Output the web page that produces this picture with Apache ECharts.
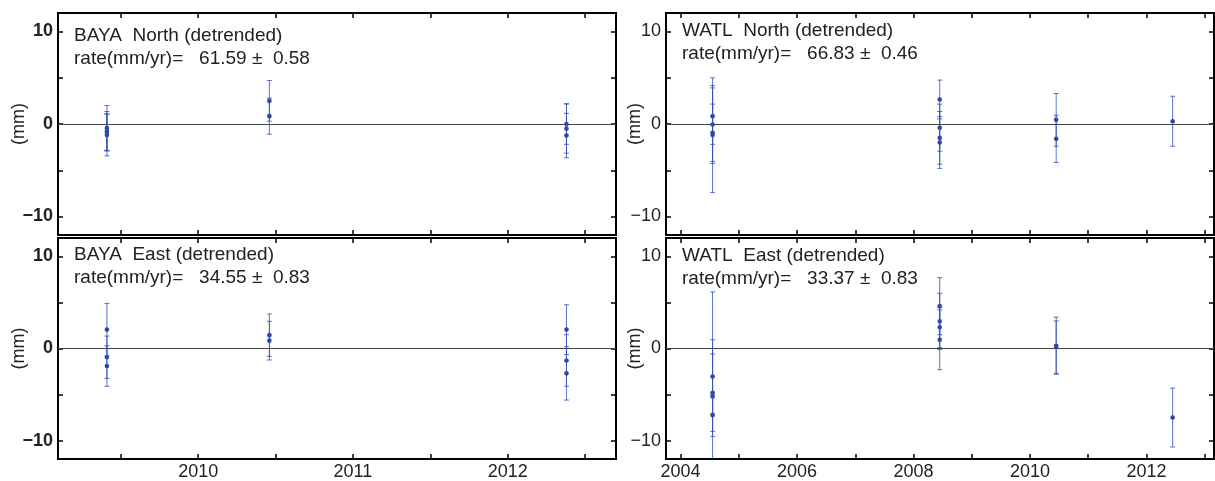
<!DOCTYPE html>
<html><head><meta charset="utf-8">
<script src="https://cdn.jsdelivr.net/npm/echarts@6/dist/echarts.min.js"></script>
<style>html,body{margin:0;padding:0;background:#fff}#c{width:1215px;height:481px}</style>
</head><body><div id="c"></div>
<script>
// ---- data ----
const bayaNorthT = [2009.41, 2009.41, 2009.41, 2009.41, 2010.46, 2010.46, 2012.38, 2012.38, 2012.38];
const bayaNorthV = [-0.45, -0.75, -0.9, -1.2, 2.5, 0.85, 0.0, -0.5, -1.25];
const bayaNorthS = [2.45, 2.1, 2.0, 2.25, 2.2, 1.95, 2.2, 2.65, 2.4];

const bayaEastT = [2009.41, 2009.41, 2009.41, 2010.46, 2010.46, 2012.38, 2012.38, 2012.38];
const bayaEastV = [2.05, -0.95, -1.9, 1.45, 0.85, 2.05, -1.3, -2.7];
const bayaEastS = [2.85, 2.3, 2.2, 2.3, 2.1, 2.7, 2.8, 2.9];

const watlNorthT = [2004.55, 2004.55, 2004.55, 2004.55, 2008.45, 2008.45, 2008.45, 2008.45, 2010.45, 2010.45, 2012.45];
const watlNorthV = [0.85, -0.05, -0.95, -1.2, 2.65, -0.4, -1.5, -2.0, 0.45, -1.6, 0.3];
const watlNorthS = [3.05, 4.2, 3.1, 6.2, 2.1, 2.55, 2.85, 2.8, 2.85, 2.55, 2.7];

const watlEastT = [2004.55, 2004.55, 2004.55, 2004.55, 2008.45, 2008.45, 2008.45, 2008.45, 2010.45, 2010.45, 2012.45];
const watlEastV = [-3.05, -4.8, -5.2, -7.25, 4.6, 2.95, 2.3, 0.95, 0.3, 0.15, -7.5];
const watlEastS = [4.0, 4.2, 11.35, 2.3, 3.1, 3.05, 2.2, 3.25, 3.1, 2.85, 3.2];

const stations = ['BAYA', 'BAYA', 'WATL', 'WATL'];
const components = ['North', 'East', 'North', 'East'];
const rates = ['61.59', '34.55', '66.83', '33.37'];
const rateErrs = ['0.58', '0.83', '0.46', '0.83'];

const yTicks = [-10, -5, 0, 5, 10];
const yLabels = [-10, 0, 10];
const bayaTicks = [2009.5, 2010, 2010.5, 2011, 2011.5, 2012, 2012.5];
const bayaLabels = [2010, 2011, 2012];
const watlTicks = [2004, 2005, 2006, 2007, 2008, 2009, 2010, 2011, 2012, 2013];
const watlLabels = [2004, 2006, 2008, 2010, 2012];

// ---- build ----
const FONT = '"Liberation Sans", Arial, Helvetica, sans-serif';
const BAR = '#3351b8';
const DOT = '#2b48a8';
function rows(t, v, s) { return t.map((x, i) => [x, v[i], s[i]]); }
const panelData = [
  rows(bayaNorthT, bayaNorthV, bayaNorthS),
  rows(bayaEastT, bayaEastV, bayaEastS),
  rows(watlNorthT, watlNorthV, watlNorthS),
  rows(watlEastT, watlEastV, watlEastS)
];
const layout = [
  [58, 13, 558, 222],
  [58, 238, 558, 223],
  [666, 13, 548, 222],
  [666, 238, 548, 223]
];
const xRanges = [[2009.094, 2012.70], [2009.094, 2012.70], [2003.75, 2013.16], [2003.75, 2013.16]];
const isBottom = [false, true, false, true];
const isLeft = [true, true, false, false];

function fmtY(v) { return v < 0 ? '\u2212' + (-v) : String(v); }

function renderItem(params, api) {
  const t = api.value(0), v = api.value(1), s = api.value(2);
  const c = api.coord([t, v]);
  const hi = api.coord([t, v + s]);
  const lo = api.coord([t, v - s]);
  const hw = 2.5;
  const ls = { stroke: BAR, lineWidth: 1, opacity: 0.8 };
  return {
    type: 'group', children: [
      { type: 'line', shape: { x1: c[0], y1: hi[1], x2: c[0], y2: lo[1] }, style: ls },
      { type: 'line', shape: { x1: c[0] - hw, y1: hi[1], x2: c[0] + hw, y2: hi[1] }, style: ls },
      { type: 'line', shape: { x1: c[0] - hw, y1: lo[1], x2: c[0] + hw, y2: lo[1] }, style: ls },
      { type: 'circle', shape: { cx: c[0], cy: c[1], r: 2.3 }, style: { fill: DOT } }
    ]
  };
}

const grid = [], xAxis = [], yAxis = [], series = [], graphic = [];
const tickStyle = { color: '#000', width: 1.5 };
for (let i = 0; i < 4; i++) {
  const [l, t, w, h] = layout[i];
  grid.push({ left: l, top: t, width: w, height: h, show: true, borderColor: '#000', borderWidth: 2, backgroundColor: 'transparent' });
  const xt = isLeft[i] ? bayaTicks : watlTicks;
  const xl = isLeft[i] ? bayaLabels : watlLabels;
  const [mn, mx] = xRanges[i];
  xAxis.push({
    type: 'value', gridIndex: i, position: 'bottom', min: mn, max: mx,
    axisLine: { show: false, onZero: false }, splitLine: { show: false },
    axisTick: { show: true, inside: true, length: 5, customValues: xt, lineStyle: tickStyle },
    axisLabel: { show: isBottom[i], customValues: xl, fontSize: 18, color: '#222', margin: 4, fontFamily: FONT, formatter: v => String(v) }
  });
  xAxis.push({
    type: 'value', gridIndex: i, position: 'top', min: mn, max: mx,
    axisLine: { show: false, onZero: false }, splitLine: { show: false },
    axisTick: { show: true, inside: true, length: 5, customValues: xt, lineStyle: tickStyle },
    axisLabel: { show: false }
  });
  yAxis.push({
    type: 'value', gridIndex: i, position: 'left', min: -12, max: 12,
    axisLine: { show: false, onZero: false }, splitLine: { show: false },
    axisTick: { show: true, inside: true, length: 5, customValues: yTicks, lineStyle: tickStyle },
    axisLabel: { customValues: yLabels, fontSize: 18, color: '#222', margin: 5, fontFamily: FONT, fontWeight: isLeft[i] ? 'bold' : 'normal', formatter: fmtY },
    name: '(mm)', nameLocation: 'middle', nameGap: isLeft[i] ? 30 : 22, nameMoveOverlap: false,
    nameTextStyle: { fontSize: 18, color: '#222', fontFamily: FONT }
  });
  yAxis.push({
    type: 'value', gridIndex: i, position: 'right', min: -12, max: 12,
    axisLine: { show: false, onZero: false }, splitLine: { show: false },
    axisTick: { show: true, inside: true, length: 5, customValues: yTicks, lineStyle: tickStyle },
    axisLabel: { show: false }
  });
  series.push({
    type: 'custom', xAxisIndex: 2 * i, yAxisIndex: 2 * i, clip: true,
    renderItem: renderItem, data: panelData[i], z: 3,
    markLine: {
      silent: true, symbol: 'none', label: { show: false },
      lineStyle: { color: '#444', width: 1, type: 'solid' },
      data: [{ yAxis: 0 }], z: 2
    }
  });
  const textTop = [26, 245, 21, 246][i];
  graphic.push({
    type: 'text', left: l + 16, top: textTop, z: 10,
    style: { text: stations[i] + '  ' + components[i] + ' (detrended)', font: '19px ' + FONT, fill: '#222' }
  });
  graphic.push({
    type: 'text', left: l + 16, top: textTop + 23, z: 10,
    style: { text: 'rate(mm/yr)=   ' + rates[i] + ' \u00b1  ' + rateErrs[i], font: '19px ' + FONT, fill: '#222' }
  });
}

const chart = echarts.init(document.getElementById('c'), null, { renderer: 'canvas' });
chart.setOption({ animation: false, backgroundColor: '#fff', grid, xAxis, yAxis, series, graphic });
</script>
</body></html>
